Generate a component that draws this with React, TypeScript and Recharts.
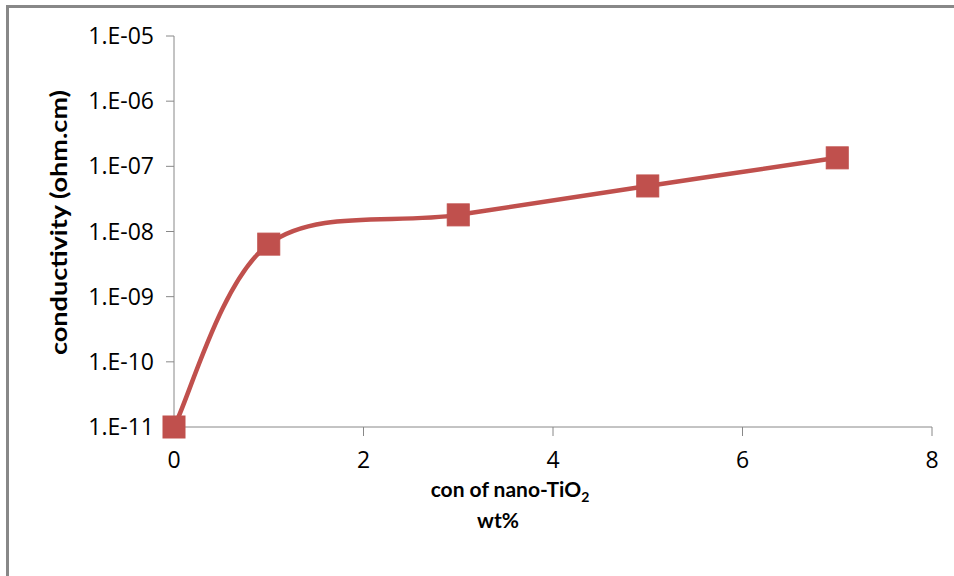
import React from 'react';
import { LineChart, Line, XAxis, YAxis } from 'recharts';

const concentrations = [0, 1, 3, 5, 7];
const conductivity = [1e-11, 6.4e-9, 1.8e-8, 5.0e-8, 1.35e-7];
const xTicks = [0, 2, 4, 6, 8];
const yTicks = [1e-11, 1e-10, 1e-9, 1e-8, 1e-7, 1e-6, 1e-5];

const data = concentrations.map((c, i) => ({ x: c, y: conductivity[i] }));

const RED = '#C0504D';
const AXIS = '#888888';
const FONT = '"Open Sans", Lato, sans-serif';
const LABEL_FONT = 'Lato, "Open Sans", sans-serif';

const fmtExp = (v: number) => {
  const e = Math.round(Math.log10(v));
  const abs = Math.abs(e);
  return `1.E${e < 0 ? '-' : '+'}${abs < 10 ? '0' + abs : abs}`;
};

// spreadsheet-style smoothing: bezier segments with tangents from neighbouring points
const excelSmooth = (context: any) => {
  let pts: [number, number][] = [];
  return {
    areaStart() {},
    areaEnd() {},
    lineStart() {
      pts = [];
    },
    point(x: number, y: number) {
      pts.push([+x, +y]);
    },
    lineEnd() {
      if (!pts.length) return;
      context.moveTo(pts[0][0], pts[0][1]);
      for (let i = 0; i < pts.length - 1; i++) {
        const p0 = pts[Math.max(0, i - 1)];
        const p1 = pts[i];
        const p2 = pts[i + 1];
        const p3 = pts[Math.min(pts.length - 1, i + 2)];
        const c1x = p1[0] + (p2[0] - p0[0]) / 6;
        const c1y = p1[1] + (p2[1] - p0[1]) / 6;
        const c2x = p2[0] - (p3[0] - p1[0]) / 6;
        const c2y = p2[1] - (p3[1] - p1[1]) / 6;
        context.bezierCurveTo(c1x, c1y, c2x, c2y, p2[0], p2[1]);
      }
    },
  };
};

const SquareDot = (props: any) => {
  const { cx, cy } = props;
  if (cx == null || cy == null) return null;
  return <rect x={cx - 11} y={cy - 11} width={22} height={22} fill={RED} stroke={RED} strokeWidth={1} />;
};

const XLabel = (props: any) => {
  const { viewBox } = props;
  const cx = viewBox.x + viewBox.width / 2 - 43;
  return (
    <text fontFamily={LABEL_FONT} fontWeight="bold" fontSize={21} fill="#000" textAnchor="middle">
      <tspan x={cx} y={viewBox.y + 70}>
        con of nano-TiO<tspan fontSize={14} dy={5}>2</tspan>
      </tspan>
      <tspan x={cx - 12} y={viewBox.y + 101}>wt%</tspan>
    </text>
  );
};

const YLabel = (props: any) => {
  const { viewBox } = props;
  const x = 67;
  const y = viewBox.y + viewBox.height / 2 - 9;
  return (
    <text
      x={x}
      y={y}
      transform={`rotate(-90 ${x} ${y})`}
      textAnchor="middle"
      fontFamily={LABEL_FONT}
      fontWeight="bold"
      fontSize={22}
      fill="#000"
      textLength={265}
      lengthAdjust="spacingAndGlyphs"
    >
      conductivity (ohm.cm)
    </text>
  );
};

const App: React.FC = () => {
  return (
    <div style={{ position: 'fixed', left: 0, top: 0, width: 954, height: 576, background: '#fff' }}>
      <div style={{ position: 'absolute', left: 6, top: 5, width: 948, height: 571, borderLeft: '3px solid #888', borderTop: '3px solid #888', boxSizing: 'border-box' }} />
      <div style={{ position: 'absolute', left: 0, top: 0 }}>
        <LineChart width={954} height={576} data={data} margin={{ top: 36, right: 22, bottom: 0, left: 0 }}>
          <XAxis
            dataKey="x"
            type="number"
            domain={[0, 8]}
            ticks={xTicks}
            height={149}
            stroke={AXIS}
            tickSize={9}
            tickLine={{ stroke: AXIS }}
            tick={{ fill: '#000', fontSize: 23, fontFamily: FONT, dy: 14 }}
            label={<XLabel />}
          />
          <YAxis
            dataKey="y"
            scale="log"
            domain={[1e-11, 1e-5]}
            ticks={yTicks}
            width={174}
            stroke={AXIS}
            tickSize={8}
            tickFormatter={fmtExp}
            tick={{ fill: '#000', fontSize: 23, fontFamily: FONT, dx: -10 }}
            label={<YLabel />}
          />
          <Line
            type={excelSmooth as any}
            dataKey="y"
            stroke={RED}
            strokeWidth={4.5}
            dot={<SquareDot />}
            isAnimationActive={false}
          />
        </LineChart>
      </div>
    </div>
  );
};

export default App;
